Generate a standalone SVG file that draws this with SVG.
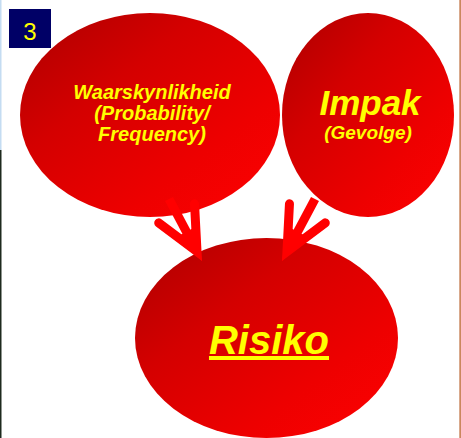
<svg xmlns="http://www.w3.org/2000/svg" width="461" height="438" viewBox="0 0 461 438">
<style>
.node{fill:url(#redgrad)}
.t{font-family:"Liberation Sans",Arial,sans-serif;font-weight:bold;font-style:italic;fill:#ffff00;text-anchor:middle}
.conn{fill:none;stroke:#ff0000;stroke-width:9;stroke-linecap:butt}
</style>
<defs>
<linearGradient id="redgrad" x1="0" y1="0" x2="1" y2="1">
<stop offset="0" stop-color="#ac0000"/>
<stop offset="0.35" stop-color="#d40000"/>
<stop offset="0.7" stop-color="#ee0000"/>
<stop offset="1" stop-color="#ff0202"/>
</linearGradient>
<marker id="head" markerUnits="userSpaceOnUse" markerWidth="1" markerHeight="1" refX="0" refY="0" orient="auto" overflow="visible">
<polygon points="20,0 -13,-10.6 -13,10.6" fill="#ff0000"/>
<polyline points="-34,-20.3 9.4,0 -34,20.3" fill="none" stroke="#ff0000" stroke-width="9" stroke-linecap="round" stroke-linejoin="miter" stroke-miterlimit="6"/>
</marker>
</defs>
<rect x="0" y="0" width="461" height="438" fill="#ffffff"/>
<rect x="0" y="0" width="1.5" height="150" fill="#c4dcf2"/>
<rect x="0" y="150" width="1.5" height="288" fill="#1e2a1e"/>
<rect x="459.5" y="0" width="1.2" height="438" fill="#b4541a"/>
<g id="badge">
<rect x="9" y="9" width="42" height="39" fill="#000066"/>
<text x="30" y="40" font-family="Liberation Sans, Arial, sans-serif" font-size="24" fill="#ffff00" text-anchor="middle">3</text>
</g>
<g id="node-waarskynlikheid">
<ellipse class="node" cx="150" cy="115" rx="130" ry="102"/>
<text class="t" x="152" y="99" font-size="20">Waarskynlikheid</text>
<text class="t" x="152" y="120" font-size="20">(Probability/</text>
<text class="t" x="152" y="141" font-size="20">Frequency)</text>
</g>
<g id="node-impak">
<ellipse class="node" cx="368" cy="115" rx="86" ry="102"/>
<text class="t" x="370" y="115" font-size="35">Impak</text>
<text class="t" x="368" y="139" font-size="19">(Gevolge)</text>
</g>
<g id="node-risiko">
<ellipse class="node" cx="266.5" cy="338" rx="131.5" ry="100"/>
<text class="t" x="269" y="354" font-size="40" text-decoration="underline">Risiko</text>
</g>
<g id="connectors">
<path class="conn" d="M169,199 L192.6,243.3" marker-end="url(#head)"/>
<path class="conn" d="M315,199 L291.4,243.3" marker-end="url(#head)"/>
</g>
</svg>
